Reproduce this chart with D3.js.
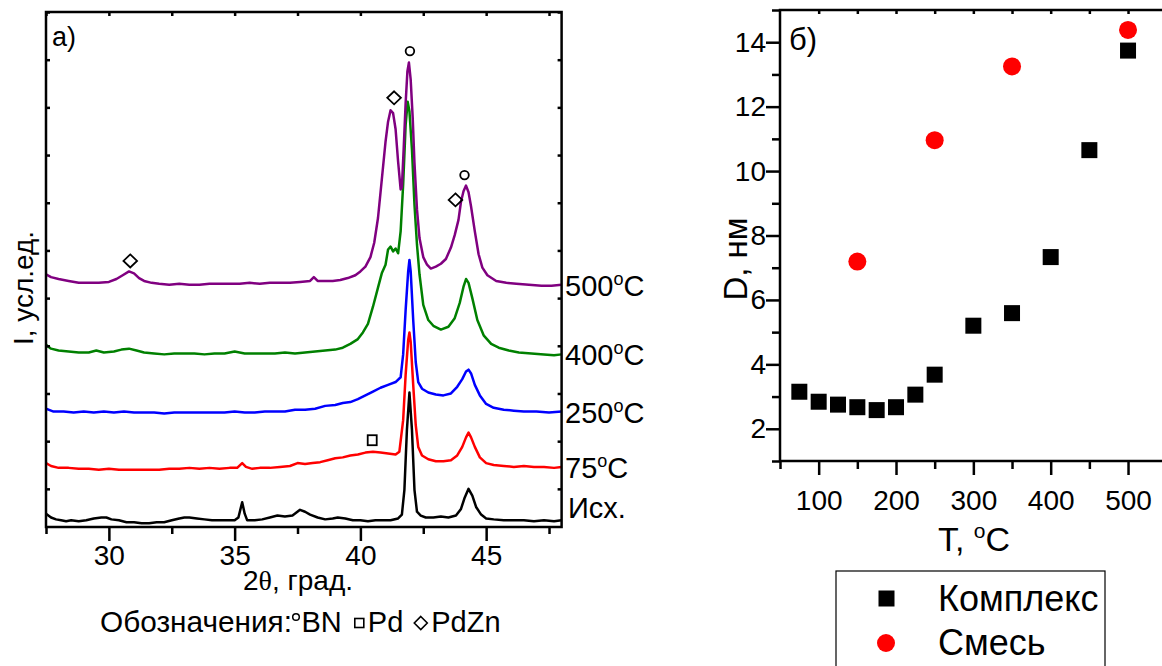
<!DOCTYPE html>
<html><head><meta charset="utf-8">
<script src="https://cdn.jsdelivr.net/npm/d3@7"></script>
<style>
body{margin:0;background:#fff}
svg{display:block;font-family:Arial,"Liberation Sans",sans-serif}
</style>
</head><body>
<svg id="fig" width="1162" height="666"></svg>
<script>
// ---- panel а): XRD patterns, [2θ (deg), intensity (a.u., stacked)] ----
const patternIsh = [[27.5,-26],[27.7,-30],[27.9,-32],[28.1,-33],[28.3,-34],[28.5,-33],[28.8,-34],[29.1,-33],[29.4,-31],[29.7,-30],[29.9,-30],[30.1,-32],[30.4,-33],[30.7,-35],[31.0,-35],[31.3,-36],[31.6,-36],[31.9,-35],[32.2,-35],[32.5,-33],[32.8,-31],[33.0,-30],[33.2,-30],[33.5,-31],[33.8,-32],[34.1,-33],[34.4,-33],[34.7,-33],[35.0,-33],[35.15,-30],[35.3,-14],[35.4,-26],[35.5,-33],[35.8,-33],[36.1,-32],[36.4,-30],[36.7,-28],[37.0,-29],[37.3,-28],[37.6,-22],[37.8,-24],[38.0,-27],[38.3,-30],[38.6,-32],[38.9,-31],[39.1,-30],[39.4,-31],[39.7,-33],[40.0,-33],[40.3,-34],[40.6,-33],[40.9,-33],[41.2,-33],[41.5,-31],[41.65,-27],[41.75,-1],[41.85,62],[41.95,101],[42.05,62],[42.15,-1],[42.25,-24],[42.4,-28],[42.6,-30],[42.9,-30],[43.2,-29],[43.5,-30],[43.8,-28],[44.0,-21],[44.15,-9],[44.3,0],[44.45,-7],[44.6,-19],[44.8,-27],[45.0,-31],[45.3,-32],[45.7,-33],[46.1,-33],[46.5,-33],[46.9,-34],[47.3,-33],[47.7,-34],[48.0,-33]];
const pattern75 = [[27.5,27],[27.7,24],[28.0,22],[28.4,22],[28.8,21],[29.2,21],[29.6,20],[30.0,21],[30.4,20],[30.8,20],[31.2,20],[31.6,20],[32.0,20],[32.4,21],[32.8,21],[33.2,22],[33.6,21],[34.0,22],[34.4,21],[34.8,22],[35.1,22],[35.3,27],[35.45,23],[35.7,21],[36.0,22],[36.4,22],[36.8,23],[37.2,24],[37.5,27],[37.8,26],[38.1,27],[38.4,28],[38.7,30],[39.0,32],[39.3,33],[39.6,35],[39.9,36],[40.2,38],[40.5,39],[40.8,38],[41.1,37],[41.4,36],[41.55,39],[41.7,72],[41.8,120],[41.9,156],[41.95,164],[42.0,154],[42.1,109],[42.2,67],[42.3,44],[42.45,35],[42.7,31],[43.0,29],[43.3,29],[43.6,30],[43.85,35],[44.05,44],[44.2,54],[44.3,59],[44.4,54],[44.55,44],[44.75,33],[45.0,27],[45.3,25],[45.7,24],[46.1,23],[46.5,24],[46.9,23],[47.3,23],[47.7,22],[48.0,23]];
const pattern250 = [[27.5,84],[27.8,81],[28.2,81],[28.6,80],[29.0,81],[29.4,80],[29.8,81],[30.2,80],[30.6,81],[31.0,80],[31.4,80],[31.8,80],[32.2,79],[32.6,80],[33.0,80],[33.4,80],[33.8,80],[34.2,80],[34.6,80],[35.0,81],[35.4,80],[35.8,80],[36.2,81],[36.6,81],[37.0,81],[37.4,83],[37.8,83],[38.2,84],[38.6,87],[39.0,88],[39.3,90],[39.6,91],[39.9,94],[40.2,98],[40.5,102],[40.8,106],[41.1,109],[41.4,112],[41.6,117],[41.7,141],[41.8,188],[41.9,228],[41.95,240],[42.0,228],[42.1,177],[42.2,133],[42.3,112],[42.45,105],[42.7,101],[43.0,99],[43.3,98],[43.6,100],[43.85,107],[44.05,115],[44.2,123],[44.3,125],[44.4,121],[44.55,109],[44.75,98],[45.0,89],[45.3,85],[45.7,83],[46.1,82],[46.5,81],[47.0,81],[47.5,80],[48.0,81]];
const pattern400 = [[27.5,151],[27.7,147],[28.0,145],[28.4,144],[28.8,143],[29.2,143],[29.5,145],[29.8,143],[30.2,144],[30.5,146],[30.8,147],[31.1,145],[31.4,143],[31.8,142],[32.2,141],[32.6,142],[33.0,142],[33.4,142],[33.8,141],[34.2,142],[34.6,142],[35.0,144],[35.4,142],[35.8,142],[36.2,142],[36.6,142],[37.0,143],[37.4,142],[37.8,143],[38.2,144],[38.6,145],[39.0,146],[39.3,148],[39.6,152],[39.9,157],[40.1,164],[40.3,173],[40.5,191],[40.7,211],[40.85,226],[41.0,235],[41.1,251],[41.2,254],[41.3,249],[41.4,252],[41.5,247],[41.6,270],[41.7,319],[41.8,382],[41.88,406],[41.95,396],[42.05,356],[42.15,298],[42.25,256],[42.35,225],[42.5,193],[42.7,177],[42.9,171],[43.2,167],[43.5,170],[43.75,179],[43.95,195],[44.1,212],[44.2,220],[44.3,216],[44.45,200],[44.65,177],[44.9,161],[45.2,152],[45.5,148],[45.9,145],[46.3,143],[46.8,142],[47.3,141],[47.7,140],[48.0,141]];
const pattern500 = [[27.5,225],[27.7,222],[28.0,220],[28.4,218],[28.8,216],[29.2,216],[29.6,216],[30.0,217],[30.3,220],[30.55,224],[30.8,228],[31.0,226],[31.2,221],[31.4,218],[31.7,216],[32.0,215],[32.4,214],[32.8,215],[33.2,214],[33.6,214],[34.0,215],[34.4,215],[34.8,215],[35.2,215],[35.6,216],[36.0,215],[36.4,216],[36.8,216],[37.2,216],[37.6,217],[38.0,218],[38.15,222],[38.3,218],[38.6,218],[38.9,218],[39.2,219],[39.5,221],[39.8,224],[40.0,228],[40.2,233],[40.4,243],[40.55,258],[40.7,284],[40.85,324],[41.0,364],[41.1,385],[41.2,397],[41.3,394],[41.4,377],[41.5,343],[41.6,314],[41.65,316],[41.72,356],[41.8,405],[41.87,438],[41.93,447],[42.0,429],[42.08,389],[42.15,342],[42.25,293],[42.35,263],[42.5,243],[42.65,235],[42.8,231],[43.0,233],[43.2,236],[43.4,241],[43.6,253],[43.75,266],[43.9,282],[44.0,301],[44.1,312],[44.2,318],[44.3,311],[44.4,296],[44.55,270],[44.7,246],[44.85,232],[45.05,224],[45.4,218],[45.8,216],[46.2,215],[46.7,214],[47.2,213],[47.6,213],[48.0,214]];

const patterns = [patternIsh, pattern75, pattern250, pattern400, pattern500];
const patternNames = ["Исх.", "75", "250", "400", "500"];
const patternColors = ["#000000", "#ff0000", "#0000ff", "#008000", "#800080"];

// phase reflections: [2θ, intensity]
const marksBN = [[41.97,459],[44.14,329]];
const marksPd = [[40.47,51]];
const marksPdZn = [[41.34,410],[43.78,303],[30.85,239]];

const xTicksA = [30, 35, 40, 45];
const xMinorA = [27.5, 32.5, 37.5, 42.5, 47.5];

// ---- panel б): crystallite size D (nm) vs T (°C) ----
const complexT = [75,100,125,150,175,200,225,250,300,350,400,450,500];
const complexD = [3.15,2.84,2.75,2.67,2.58,2.67,3.06,3.68,5.20,5.59,7.33,10.65,13.74];
const mixT = [150,250,350,500];
const mixD = [7.19,10.96,13.25,14.38];
const seriesNames = ["Комплекс", "Смесь"];

const svg = d3.select("#fig");
const AX = 2.5;

function styleAxis(g, fs) {
  g.select(".domain").remove();
  g.selectAll(".tick line").attr("stroke", "#000").attr("stroke-width", AX);
  g.selectAll(".tick text").attr("fill", "#000").attr("font-size", fs);
}

// ================= panel а) =================
const A = {left: 46, right: 561.6, top: 12, bottom: 527};
const xA = d3.scaleLinear().domain([27.5, 48]).range([A.left, A.right]);
const yA = d3.scaleLinear().domain([-40, 500]).range([A.bottom, A.top]);

svg.append("defs").append("clipPath").attr("id", "clipA")
  .append("rect").attr("x", A.left).attr("y", A.top)
  .attr("width", A.right - A.left).attr("height", A.bottom - A.top);

const gA = svg.append("g");
const lineA = d3.line().x(d => xA(d[0])).y(d => yA(d[1]));

gA.append("g").attr("clip-path", "url(#clipA)")
  .selectAll("path").data(patterns).join("path")
  .attr("d", lineA).attr("fill", "none")
  .attr("stroke", (d, i) => patternColors[i])
  .attr("stroke-width", 2.5).attr("stroke-linejoin", "round");

// axes of panel а)
gA.append("g").attr("transform", `translate(0,${A.bottom})`)
  .call(d3.axisBottom(xA).tickValues(xTicksA).tickSize(14).tickPadding(4).tickFormat(d3.format("d")))
  .call(g => styleAxis(g, 28));
gA.append("g").attr("transform", `translate(0,${A.bottom})`)
  .call(d3.axisBottom(xA).tickValues(xMinorA).tickSize(7).tickFormat(""))
  .call(g => styleAxis(g, 28));
gA.append("g").attr("transform", `translate(0,${A.top})`)
  .call(d3.axisTop(xA).tickValues(xTicksA.concat(xMinorA)).tickSize(-4).tickFormat(""))
  .call(g => styleAxis(g, 28));
const yTickA = d3.range(0, 501, 50);
gA.append("g").attr("transform", `translate(${A.left},0)`)
  .call(d3.axisLeft(yA).tickValues(yTickA).tickSize(-4).tickFormat(""))
  .call(g => styleAxis(g, 28));
gA.append("g").attr("transform", `translate(${A.right},0)`)
  .call(d3.axisRight(yA).tickValues(yTickA).tickSize(-4).tickFormat(""))
  .call(g => styleAxis(g, 28));
gA.append("rect").attr("x", A.left).attr("y", A.top)
  .attr("width", A.right - A.left).attr("height", A.bottom - A.top)
  .attr("fill", "none").attr("stroke", "#000").attr("stroke-width", AX);

// phase markers
const mk = gA.append("g").attr("fill", "none").attr("stroke", "#000").attr("stroke-width", 1.8);
mk.selectAll("circle").data(marksBN).join("circle")
  .attr("cx", d => xA(d[0])).attr("cy", d => yA(d[1])).attr("r", 4.3);
mk.selectAll("rect").data(marksPd).join("rect")
  .attr("x", d => xA(d[0]) - 4.5).attr("y", d => yA(d[1]) - 5).attr("width", 9).attr("height", 10);
mk.selectAll("path").data(marksPdZn).join("path")
  .attr("d", d => { const x = xA(d[0]), y = yA(d[1]); return `M${x},${y-6.5}L${x+6.8},${y}L${x},${y+6.5}L${x-6.8},${y}Z`; });

// temperature labels at the right end of each pattern
patterns.forEach((p, i) => {
  const yEnd = yA(p[p.length - 1][1]);
  const t = gA.append("text").attr("font-size", 29).attr("fill", "#000")
    .attr("x", i === 0 ? 568 : 565).attr("y", i === 0 ? yEnd - 2 : yEnd + 11);
  t.append("tspan").text(patternNames[i]);
  if (i > 0) {
    t.append("tspan").attr("font-size", 18).attr("dy", -11).text("o");
    t.append("tspan").attr("dy", 11).text("C");
  }
});

gA.append("text").attr("x", 52).attr("y", 46).attr("font-size", 27).text("а)");

gA.append("text").attr("transform", "translate(33,288) rotate(-90)")
  .attr("text-anchor", "middle").attr("font-size", 28).text("I, усл.ед.");

const xt = gA.append("text").attr("x", 298).attr("y", 590).attr("text-anchor", "middle").attr("font-size", 28);
xt.append("tspan").text("2");
xt.append("tspan").attr("font-family", "'Liberation Serif','Times New Roman',serif").text("θ");
xt.append("tspan").text(", град.");

// phase notation row
const row = gA.append("g");
let cx = 100;
const baseY = 632;
function piece(str, len) {
  const t = row.append("text").attr("x", cx).attr("y", baseY).attr("font-size", 29).text(str);
  if (len) t.attr("textLength", len).attr("lengthAdjust", "spacingAndGlyphs");
  cx += len || t.node().getComputedTextLength();
}
piece("Обозначения:", 192);
row.append("circle").attr("cx", cx + 4).attr("cy", baseY - 15).attr("r", 3.3)
  .attr("fill", "none").attr("stroke", "#000").attr("stroke-width", 1.5);
cx += 9.5;
piece("BN");
cx += 13;
row.append("rect").attr("x", cx).attr("y", baseY - 13.5).attr("width", 9).attr("height", 9)
  .attr("fill", "none").attr("stroke", "#000").attr("stroke-width", 1.6);
cx += 13;
piece("Pd");
cx += 11;
row.append("path").attr("d", `M${cx+6.5},${baseY-15.5}L${cx+13},${baseY-9}L${cx+6.5},${baseY-2.5}L${cx},${baseY-9}Z`)
  .attr("fill", "none").attr("stroke", "#000").attr("stroke-width", 1.6);
cx += 17;
piece("PdZn");

// ================= panel б) =================
const B = {left: 780, right: 1166.7, top: 10, bottom: 461};
const xB = d3.scaleLinear().domain([50, 550]).range([B.left, B.right]);
const yB = d3.scaleLinear().domain([1, 15]).range([B.bottom, B.top]);
const gB = svg.append("g");

gB.append("g").attr("transform", `translate(0,${B.bottom})`)
  .call(d3.axisBottom(xB).tickValues([100, 200, 300, 400, 500]).tickSize(14).tickPadding(15).tickFormat(d3.format("d")))
  .call(g => styleAxis(g, 28));
gB.append("g").attr("transform", `translate(0,${B.bottom})`)
  .call(d3.axisBottom(xB).tickValues([50, 150, 250, 350, 450, 550]).tickSize(8).tickFormat(""))
  .call(g => styleAxis(g, 28));
gB.append("g").attr("transform", `translate(0,${B.top})`)
  .call(d3.axisTop(xB).tickValues(d3.range(100, 550, 50)).tickSize(-4).tickFormat(""))
  .call(g => styleAxis(g, 28));
gB.append("g").attr("transform", `translate(${B.left},0)`)
  .call(d3.axisLeft(yB).tickValues([2, 4, 6, 8, 10, 12, 14]).tickSize(14).tickPadding(0).tickFormat(d3.format("d")))
  .call(g => styleAxis(g, 28));
gB.append("g").attr("transform", `translate(${B.left},0)`)
  .call(d3.axisLeft(yB).tickValues([1, 3, 5, 7, 9, 11, 13, 15]).tickSize(8).tickFormat(""))
  .call(g => styleAxis(g, 28));
gB.append("rect").attr("x", B.left).attr("y", B.top)
  .attr("width", B.right - B.left).attr("height", B.bottom - B.top)
  .attr("fill", "none").attr("stroke", "#000").attr("stroke-width", AX);

const sq = 16;
gB.selectAll("rect.cpx").data(complexT).join("rect").attr("class", "cpx")
  .attr("x", (d, i) => xB(d) - sq / 2).attr("y", (d, i) => yB(complexD[i]) - sq / 2)
  .attr("width", sq).attr("height", sq).attr("fill", "#000");
gB.selectAll("circle.mix").data(mixT).join("circle").attr("class", "mix")
  .attr("cx", d => xB(d)).attr("cy", (d, i) => yB(mixD[i])).attr("r", 9).attr("fill", "#ff0000");

gB.append("text").attr("x", 789).attr("y", 50).attr("font-size", 31).text("б)");

gB.append("text").attr("transform", "translate(747,259) rotate(-90)")
  .attr("text-anchor", "middle").attr("font-size", 33).text("D, нм");

const tt = gB.append("text").attr("x", 974).attr("y", 551).attr("text-anchor", "middle").attr("font-size", 34);
tt.append("tspan").text("T, ");
tt.append("tspan").attr("font-size", 21).attr("dy", -13).text("o");
tt.append("tspan").attr("dy", 13).text("C");

// legend
const lg = gB.append("g");
lg.append("rect").attr("x", 836).attr("y", 571).attr("width", 269).attr("height", 130)
  .attr("fill", "#fff").attr("stroke", "#000").attr("stroke-width", 1.2);
lg.append("rect").attr("x", 886.5 - sq / 2).attr("y", 598.5 - sq / 2).attr("width", sq).attr("height", sq).attr("fill", "#000");
lg.append("circle").attr("cx", 886).attr("cy", 643).attr("r", 9).attr("fill", "#ff0000");
lg.selectAll("text").data(seriesNames).join("text")
  .attr("x", 938).attr("y", (d, i) => 611 + i * 44).attr("font-size", 36).text(d => d);
</script>
</body></html>
